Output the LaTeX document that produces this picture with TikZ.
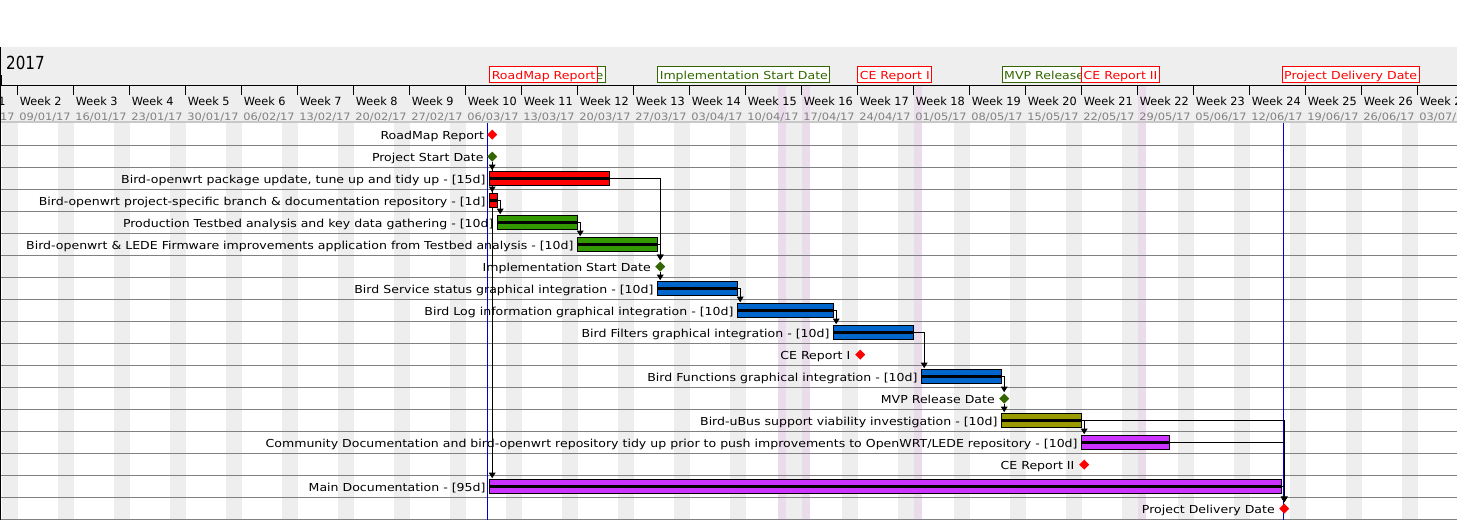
\documentclass[tikz,border=0pt]{standalone}
\usepackage{fontspec}
\setmainfont{DejaVu Sans}
\newfontfamily\labfont[FakeStretch=1.14]{DejaVu Sans}
\newfontfamily\wkfont{DejaVu Sans}
\newfontfamily\datefont[FakeStretch=1.12]{DejaVu Sans}
\newfontfamily\yearfont[FakeStretch=0.84]{DejaVu Sans}
\usetikzlibrary{shapes.geometric,arrows.meta}

\definecolor{hdrgray}{HTML}{EEEEEE}
\definecolor{wkend}{HTML}{EEEEEE}
\definecolor{holiday}{RGB}{235,220,235}
\definecolor{rowline}{HTML}{808080}
\definecolor{hdrline}{RGB}{200,200,200}
\definecolor{datecol}{HTML}{808080}
\definecolor{taskred}{HTML}{FF0000}
\definecolor{taskgreen}{HTML}{339900}
\definecolor{taskblue}{HTML}{0066CC}
\definecolor{taskolive}{HTML}{999900}
\definecolor{taskpurple}{HTML}{CC33FF}
\definecolor{msgreen}{HTML}{336600}
\definecolor{markblue}{HTML}{0000CC}

\pgfdeclarelayer{grid}
\pgfdeclarelayer{links}
\pgfsetlayers{grid,links,main}

\begin{document}
\begin{tikzpicture}[x=1pt,y=-1pt,
  bar/.style={rectangle, draw=black, line width=1pt, fill=#1,
    minimum height=14pt, inner sep=0pt, outer sep=0pt, anchor=west,
    path picture={\fill[black] ([yshift=-1.5pt]path picture bounding box.west)
      rectangle ([yshift=1.5pt]path picture bounding box.east);}},
  ms/.style={diamond, fill=#1, minimum width=10pt, minimum height=10pt,
    inner sep=0pt, outer sep=0pt},
  lab/.style={font=\labfont\fontsize{11pt}{13pt}\selectfont, inner sep=0pt,
    anchor=base east},
  wk/.style={font=\wkfont\fontsize{11.3pt}{13pt}\selectfont, inner sep=0pt,
    anchor=base west},
  dt/.style={font=\datefont\fontsize{10.2pt}{12pt}\selectfont, text=datecol,
    inner sep=0pt, anchor=base west},
  hbox/.style={rectangle, draw=#1, text=#1, fill=white, line width=1pt,
    anchor=north west, inner xsep=2pt, inner ysep=2pt, text height=11pt,
    text depth=1pt, font=\labfont\fontsize{11pt}{13pt}\selectfont},
  dep/.style={draw=black, line width=1pt,
    -{Triangle[width=6.5pt,length=5.5pt]}, shorten >=1.5pt}]

\useasboundingbox (0,0) rectangle (1457,520);

% ---------- background grid ----------
\begin{pgfonlayer}{grid}
  \fill[white] (0,0) rectangle (1457,520);
  \fill[hdrgray] (0,47) rectangle (1457,122);
  % weekends
  \foreach \n in {2,...,27}
    \fill[wkend] ({1.7+56*(\n-2)},122.5) rectangle ({17.7+56*(\n-2)},520);
  % public holidays
  \foreach \hx in {777.7,801.7,913.7,1137.7}
    \fill[holiday] (\hx,85.5) rectangle (\hx+8,520);
  % timeline rules
  \draw[line width=1pt] (0,85) -- (1457,85);
  \foreach \n in {2,...,27}
    \draw[line width=1pt] ({17.7+56*(\n-2)},85) -- ++(0,10);
  \draw[hdrline, line width=1.2pt] (0,122) -- (1457,122);
  \foreach \k in {0,...,17}
    \draw[rowline, line width=1pt] (0,{145.7+22*\k}) -- (1457,{145.7+22*\k});
  % left border and year mark
  \draw[line width=1pt] (0.5,47) -- (0.5,520);
  \fill[black] (0,75) rectangle (2,85);
  % project start / end markers
  \draw[markblue, line width=1pt] (487.5,122.5) -- (487.5,520);
  \draw[markblue, line width=1pt] (1283.7,122.5) -- (1283.7,520);
\end{pgfonlayer}

% ---------- header ----------
\node[anchor=base west, inner sep=0pt,
  font=\yearfont\fontsize{18pt}{20pt}\selectfont] (year) at (6,69.3) {2017};

\foreach \n/\dd/\mm in {1/02/01,2/09/01,3/16/01,4/23/01,5/30/01,6/06/02,
    7/13/02,8/20/02,9/27/02,10/06/03,11/13/03,12/20/03,13/27/03,14/03/04,
    15/10/04,16/17/04,17/24/04,18/01/05,19/08/05,20/15/05,21/22/05,
    22/29/05,23/05/06,24/12/06,25/19/06,26/26/06,27/03/07} {
  \node[wk] (wk\n) at ({-38.3+56*(\n-1)+2},105) {Week \n};
  \node[dt] (dt\n) at ({-38.3+56*(\n-1)+1.5},120) {\dd/\mm/17};
}

\node[hbox=msgreen] (hpsd)  at (489.3,66)  {Project Start Date};
\node[hbox=taskred] (hrm)   at (489.3,66)  {RoadMap Report};
\node[hbox=msgreen] (himpl) at (657.3,66)  {Implementation Start Date};
\node[hbox=taskred] (hce1)  at (857.3,66)  {CE Report I};
\node[hbox=msgreen] (hmvp)  at (1001.7,66) {MVP Release Date};
\node[hbox=taskred] (hce2)  at (1081.2,66) {CE Report II};
\node[hbox=taskred] (hpd)   at (1281.7,66) {Project Delivery Date};

% ---------- tasks and milestones ----------
\node[ms=taskred] (rm) at (492.2,134.7) {};
\node[lab] (lrm) at (484.2,139) {RoadMap Report};

\node[ms=msgreen] (psd) at (492.2,156.7) {};
\node[lab] (lpsd) at (483.7,161) {Project Start Date};

\node[bar=taskred, minimum width=120pt] (t2) at (489.7,178.7) {};
\node[lab] (l2) at (485.7,183) {Bird-openwrt package update, tune up and tidy up - [15d]};

\node[bar=taskred, minimum width=8pt] (t3) at (489.7,200.7) {};
\node[lab] (l3) at (485.7,205) {Bird-openwrt project-specific branch \& documentation repository - [1d]};

\node[bar=taskgreen, minimum width=80pt] (t4) at (497.7,222.7) {};
\node[lab] (l4) at (493.7,227) {Production Testbed analysis and key data gathering - [10d]};

\node[bar=taskgreen, minimum width=80pt] (t5) at (577.7,244.7) {};
\node[lab] (l5) at (573.7,249) {Bird-openwrt \& LEDE Firmware improvements application from Testbed analysis - [10d]};

\node[ms=msgreen] (impl) at (660.2,266.7) {};
\node[lab] (limpl) at (651,271) {Implementation Start Date};

\node[bar=taskblue, minimum width=80pt] (t7) at (657.7,288.7) {};
\node[lab] (l7) at (653.7,293) {Bird Service status graphical integration - [10d]};

\node[bar=taskblue, minimum width=96pt] (t8) at (737.7,310.7) {};
\node[lab] (l8) at (733.7,315) {Bird Log information graphical integration - [10d]};

\node[bar=taskblue, minimum width=80pt] (t9) at (833.7,332.7) {};
\node[lab] (l9) at (829.7,337) {Bird Filters graphical integration - [10d]};

\node[ms=taskred] (ce1) at (860.2,354.7) {};
\node[lab] (lce1) at (850.5,359) {CE Report I};

\node[bar=taskblue, minimum width=80pt] (t11) at (921.7,376.7) {};
\node[lab] (l11) at (917.7,381) {Bird Functions graphical integration - [10d]};

\node[ms=msgreen] (mvp) at (1004.2,398.7) {};
\node[lab] (lmvp) at (995,403) {MVP Release Date};

\node[bar=taskolive, minimum width=80pt] (t13) at (1001.7,420.7) {};
\node[lab] (l13) at (997.7,425) {Bird-uBus support viability investigation - [10d]};

\node[bar=taskpurple, minimum width=88pt] (t14) at (1081.7,442.7) {};
\node[lab] (l14) at (1077.7,447) {Community Documentation and bird-openwrt repository tidy up prior to push improvements to OpenWRT/LEDE repository - [10d]};

\node[ms=taskred] (ce2) at (1084.2,464.7) {};
\node[lab] (lce2) at (1074.5,469) {CE Report II};

\node[bar=taskpurple, minimum width=792pt] (t16) at (489.7,486.7) {};
\node[lab] (l16) at (485.7,491) {Main Documentation - [95d]};

\node[ms=taskred] (pd) at (1284.2,508.7) {};
\node[lab] (lpd) at (1275,513) {Project Delivery Date};

% ---------- dependencies ----------
\begin{pgfonlayer}{links}
  \draw[dep] (psd.south) -- (psd.south |- t2.north);
  \draw[dep] (psd.south) -- (psd.south |- t3.north);
  \draw[dep] (psd.south) -- (psd.south |- t16.north);
  \draw[dep] (t3.east) -| ([xshift=2.5pt]t4.north west);
  \draw[dep] (t4.east) -| ([xshift=2.5pt]t5.north west);
  \draw[dep] (t2.east) -| (impl.north);
  \draw[dep] (t5.east) -| (impl.north);
  \draw[dep] (impl.south) -- (impl.south |- t7.north);
  \draw[dep] (t7.east) -| ([xshift=2.5pt]t8.north west);
  \draw[dep] (t8.east) -| ([xshift=2.5pt]t9.north west);
  \draw[dep] (t9.east) -| ([xshift=2.5pt]t11.north west);
  \draw[dep] (t11.east) -| (mvp.north);
  \draw[dep] (mvp.south) -- (mvp.south |- t13.north);
  \draw[dep] (t13.east) -| ([xshift=2.5pt]t14.north west);
  \draw[dep] (t13.east) -| (pd.north);
  \draw[dep] (t14.east) -| (pd.north);
  \draw[dep] (t16.east) -| (pd.north);
\end{pgfonlayer}
\end{tikzpicture}
\end{document}
